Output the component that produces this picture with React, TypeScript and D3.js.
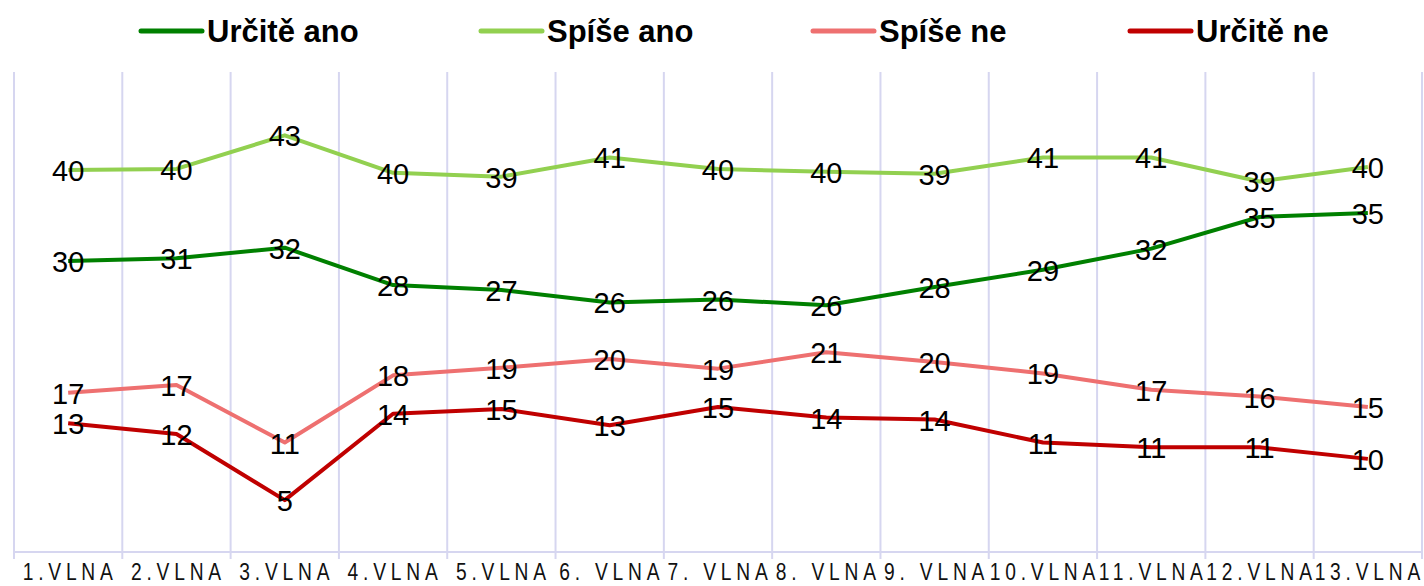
import React from "react";
import * as d3 from "d3";

const waves = [
  "1.VLNA", "2.VLNA", "3.VLNA", "4.VLNA", "5.VLNA", "6. VLNA", "7. VLNA",
  "8. VLNA", "9. VLNA", "10.VLNA", "11.VLNA", "12.VLNA", "13.VLNA",
];

const urciteAno = [30.3, 30.6, 31.7, 27.8, 27.3, 26.0, 26.3, 25.7, 27.6, 29.4, 31.6, 34.9, 35.3];
const spiseAno = [39.8, 39.9, 43.4, 39.5, 39.1, 41.1, 39.9, 39.6, 39.4, 41.1, 41.1, 38.6, 40.1];
const spiseNe = [16.6, 17.4, 11.4, 18.4, 19.2, 20.1, 19.1, 20.8, 19.8, 18.6, 16.9, 16.2, 15.1];
const urciteNe = [13.4, 12.3, 5.4, 14.4, 14.9, 13.2, 15.1, 14.0, 13.8, 11.4, 10.9, 10.9, 9.7];

const series = [
  { name: "Určitě ano", values: urciteAno, color: "#008000" },
  { name: "Spíše ano", values: spiseAno, color: "#92D050" },
  { name: "Spíše ne", values: spiseNe, color: "#EE7070" },
  { name: "Určitě ne", values: urciteNe, color: "#C00000" },
];

const W = 1424;
const H = 586;
const left = 14;
const right = 1422;
const top = 72;
const bottom = 552;
const gridColor = "#D6D6F0";

// legend item positions (line start x)
const legendX = [141, 481, 813, 1130];

export default function App() {
  const x = d3.scaleBand<string>().domain(waves).range([left, right]).padding(0);
  const y = d3.scaleLinear().domain([0, 50]).range([bottom, top]);
  const cx = (i: number) => (x(waves[i]) as number) + x.bandwidth() / 2;

  const line = d3
    .line<number>()
    .x((_, i) => cx(i))
    .y((d) => y(d));

  const bounds = waves.map((w) => x(w) as number).concat([right]);

  return (
    <svg
      width={W}
      height={H}
      style={{ position: "absolute", left: 0, top: 0, background: "#fff" }}
      fontFamily="'Liberation Sans', Arial, sans-serif"
    >
      {/* vertical gridlines */}
      {bounds.map((b, i) => (
        <line key={"g" + i} x1={b} x2={b} y1={top} y2={bottom + 7} stroke={gridColor} strokeWidth={2} />
      ))}
      <line x1={left} x2={right} y1={bottom} y2={bottom} stroke={gridColor} strokeWidth={2} />

      {/* category labels - tall, narrow, spaced out */}
      {waves.map((w, i) => (
        <g key={"x" + i} transform={`translate(${cx(i) + 2},580) scale(0.8,1)`}>
          <text x={0} y={0} textAnchor="middle" fontSize={24} letterSpacing={6} fill="#111">
            {w}
          </text>
        </g>
      ))}

      {/* lines */}
      {series.map((s) => (
        <path key={s.name} d={line(s.values) as string} fill="none" stroke={s.color} strokeWidth={4} strokeLinejoin="round" />
      ))}

      {/* data labels */}
      {series.map((s) =>
        s.values.map((v, i) => (
          <text
            key={s.name + i}
            x={cx(i)}
            y={y(v)}
            dy="0.38em"
            textAnchor="middle"
            fontSize={29}
            fill="#000"
          >
            {Math.round(v)}
          </text>
        ))
      )}

      {/* legend */}
      {series.map((s, i) => (
        <g key={"l" + i} transform={`translate(${legendX[i]},31)`}>
          <line x1={0} x2={61} y1={0} y2={0} stroke={s.color} strokeWidth={5} strokeLinecap="round" />
          <text x={66} y={0} dy="0.36em" fontSize={31} fontWeight="bold" fill="#000">
            {s.name}
          </text>
        </g>
      ))}
    </svg>
  );
}
